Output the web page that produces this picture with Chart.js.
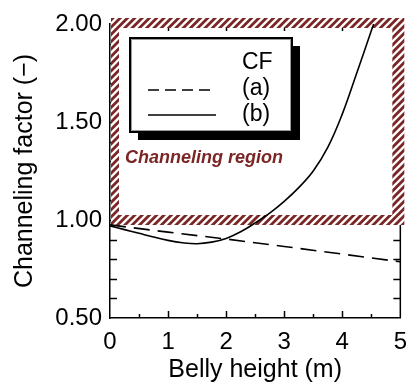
<!DOCTYPE html>
<html>
<head>
<meta charset="utf-8">
<script src="https://cdn.jsdelivr.net/npm/chart.js@4/dist/chart.umd.min.js"></script>
<style>
html,body{margin:0;padding:0;background:#fff;}
#wrap{width:417px;height:385px;position:relative;}
</style>
</head>
<body>
<div id="wrap"><canvas id="c"></canvas></div>
<script>
// ---- data ----
const heightA = [0, 1, 2, 3, 4, 5];
const cfA = [0.975, 0.938, 0.903, 0.865, 0.826, 0.787];

const heightB = [0, 0.25, 0.5, 0.75, 1.0, 1.25, 1.5, 1.75, 2.0, 2.25, 2.5, 2.75, 3.0, 3.25, 3.5, 3.75, 4.0, 4.25, 4.5, 4.6];
const cfB = [0.97, 0.951, 0.932, 0.913, 0.896, 0.884, 0.879, 0.887, 0.906, 0.94, 0.985, 1.035, 1.095, 1.165, 1.25, 1.37, 1.54, 1.75, 1.965, 2.05];

const regionX = [0, 5];
const regionY = [1.0, 2.0];

const xTicks = [0, 1, 2, 3, 4, 5];
const yTicks = [0.5, 1.0, 1.5, 2.0];

const legendTitle = 'CF';
const legendLabels = ['(a)', '(b)'];
const regionLabel = 'Channeling region';
const xTitle = 'Belly height (m)';
const yTitle = 'Channeling factor (\u2212)';

const FONT = "'Liberation Sans', Arial, Helvetica, sans-serif";
const HATCH = '#7b2626';

const hatchPlugin = {
  id: 'hatchAndTicks',
  beforeDatasetsDraw(chart) {
    const {ctx, scales: {x, y}} = chart;
    const L = x.getPixelForValue(x.min), R = x.getPixelForValue(x.max);
    const B = y.getPixelForValue(y.min), T = y.getPixelForValue(y.max);
    ctx.save();
    ctx.strokeStyle = '#000';
    ctx.lineWidth = 1.5;
    ctx.beginPath(); ctx.moveTo(R, T); ctx.lineTo(R, B); ctx.stroke();
    for (let i = 1; i < 15; i++) {
      const v = y.min + i * 0.1;
      const py = Math.round(y.getPixelForValue(v)) + 0.5;
      ctx.beginPath(); ctx.moveTo(L, py); ctx.lineTo(L + 7, py); ctx.stroke();
      ctx.beginPath(); ctx.moveTo(R, py); ctx.lineTo(R - 7, py); ctx.stroke();
    }
    for (let i = 1; i < 10; i++) {
      const v = x.min + i * 0.5;
      const px = Math.round(x.getPixelForValue(v)) + 0.5;
      const len = (i % 2 === 0) ? 7 : 4;
      ctx.beginPath(); ctx.moveTo(px, B); ctx.lineTo(px, B - len); ctx.stroke();
      ctx.beginPath(); ctx.moveTo(px, T); ctx.lineTo(px, T + len); ctx.stroke();
    }
    const rl = x.getPixelForValue(regionX[0]), rr = x.getPixelForValue(regionX[1]);
    const rt = y.getPixelForValue(regionY[1]), rb = y.getPixelForValue(regionY[0]);
    const o = {l: rl + 1, t: rt - 6, r: rr + 4, b: rb + 5};
    const n = {l: rl + 9, t: rt + 4, r: rr - 8, b: rb - 5};
    ctx.beginPath();
    ctx.rect(o.l, o.t, o.r - o.l, o.b - o.t);
    ctx.rect(n.l, n.t, n.r - n.l, n.b - n.t);
    ctx.clip('evenodd');
    ctx.fillStyle = '#fff';
    ctx.fillRect(o.l, o.t, o.r - o.l, o.b - o.t);
    ctx.strokeStyle = HATCH;
    ctx.lineWidth = 2.8;
    const h = o.b - o.t + 20;
    for (let k = o.l - h - 10; k < o.r + 20; k += 7.3) {
      ctx.beginPath();
      ctx.moveTo(k, o.b + 10);
      ctx.lineTo(k + h, o.b + 10 - h);
      ctx.stroke();
    }
    ctx.restore();
  },
  afterDatasetsDraw(chart) {
    const {ctx, chartArea: ca} = chart;
    const bx = ca.left + 20, by = ca.top + 14, bw = 162, bh = 94;
    ctx.save();
    ctx.fillStyle = '#000';
    ctx.fillRect(bx + 8, by + 8, bw, bh);
    ctx.fillStyle = '#fff';
    ctx.fillRect(bx, by, bw, bh);
    ctx.strokeStyle = '#000';
    ctx.lineWidth = 2;
    ctx.strokeRect(bx, by, bw, bh);
    ctx.strokeStyle = '#999';
    ctx.lineWidth = 1;
    ctx.strokeRect(bx + 1.5, by + 1.5, bw - 3, bh - 3);
    ctx.fillStyle = '#000';
    ctx.font = '23px ' + FONT;
    ctx.textBaseline = 'middle';
    ctx.textAlign = 'left';
    const tx = bx + 112;
    ctx.fillText(legendTitle, tx, by + 25);
    ctx.fillText(legendLabels[0], tx, by + 51);
    ctx.fillText(legendLabels[1], tx, by + 77);
    ctx.strokeStyle = '#000';
    ctx.lineWidth = 1.6;
    ctx.setLineDash([11, 6]);
    ctx.beginPath(); ctx.moveTo(bx + 18, by + 52); ctx.lineTo(bx + 86, by + 52); ctx.stroke();
    ctx.setLineDash([]);
    ctx.beginPath(); ctx.moveTo(bx + 18, by + 77); ctx.lineTo(bx + 86, by + 77); ctx.stroke();
    ctx.fillStyle = HATCH;
    ctx.font = 'italic bold 18px ' + FONT;
    ctx.fillText(regionLabel, ca.left + 15, ca.top + 134);
    ctx.restore();
  }
};

new Chart(document.getElementById('c'), {
  type: 'line',
  data: {
    datasets: [
      {
        label: '(a)',
        data: heightA.map((h, i) => ({x: h, y: cfA[i]})),
        borderColor: '#000',
        borderWidth: 1.6,
        borderDash: [16, 8],
        pointRadius: 0,
        tension: 0,
        fill: false
      },
      {
        label: '(b)',
        data: heightB.map((h, i) => ({x: h, y: cfB[i]})),
        borderColor: '#000',
        borderWidth: 1.6,
        pointRadius: 0,
        tension: 0.4,
        fill: false
      }
    ]
  },
  options: {
    responsive: true,
    maintainAspectRatio: false,
    animation: false,
    events: [],
    layout: {padding: {top: 24, right: 9, left: 0, bottom: 0}},
    plugins: {legend: {display: false}, tooltip: {enabled: false}},
    scales: {
      x: {
        type: 'linear',
        min: 0, max: 5,
        afterFit(s) { s.height = 67; },
        afterBuildTicks(s) { s.ticks = xTicks.map(v => ({value: v})); },
        grid: {display: false, drawTicks: false},
        border: {display: true, color: '#000', width: 1.5},
        ticks: {
          color: '#000', padding: 10,
          font: {family: FONT, size: 24},
          callback: v => String(v)
        },
        title: {
          display: true, text: xTitle, color: '#000',
          font: {family: FONT, size: 25},
          padding: {top: 0, bottom: 0}
        }
      },
      y: {
        type: 'linear',
        min: 0.5, max: 2.0,
        afterFit(s) { s.width = 110; },
        afterBuildTicks(s) { s.ticks = yTicks.map(v => ({value: v})); },
        grid: {display: false, drawTicks: false},
        border: {display: true, color: '#000', width: 1.5},
        ticks: {
          color: '#000', padding: 8,
          font: {family: FONT, size: 24},
          callback: v => Number(v).toFixed(2)
        },
        title: {
          display: true, text: yTitle, color: '#000',
          font: {family: FONT, size: 25},
          padding: {top: 10, bottom: 0}
        }
      }
    }
  },
  plugins: [hatchPlugin]
});
</script>
</body>
</html>
